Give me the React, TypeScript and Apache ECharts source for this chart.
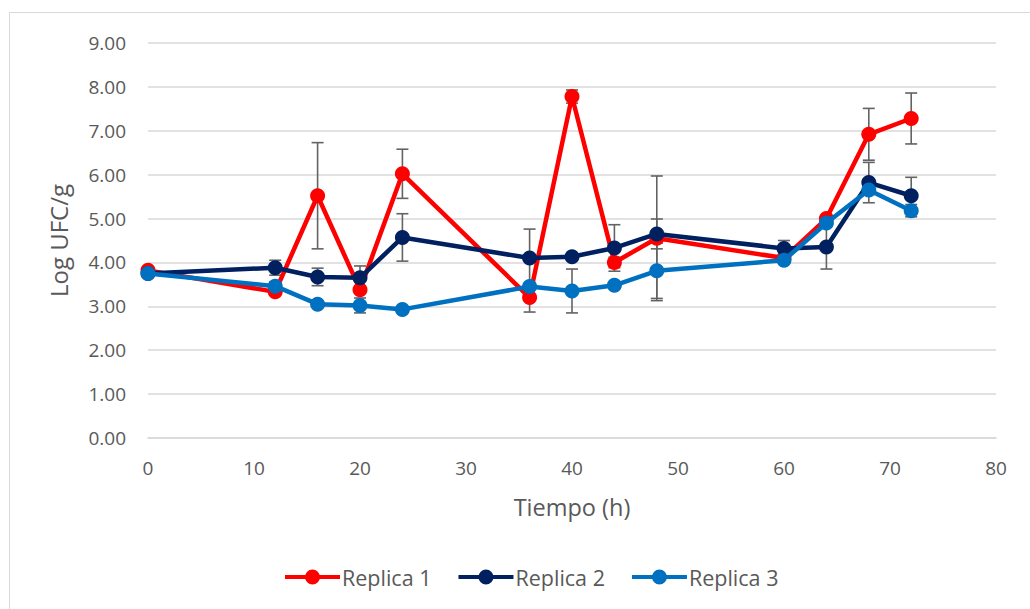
import React, { useEffect, useRef } from "react";
import * as echarts from "echarts";

const times = [0, 12, 16, 20, 24, 36, 40, 44, 48, 60, 64, 68, 72];
const replica1 = [3.82, 3.33, 5.52, 3.38, 6.02, 3.2, 7.78, 4.0, 4.55, 4.1, 5.0, 6.92, 7.28];
const replica2 = [3.75, 3.88, 3.67, 3.65, 4.57, 4.1, 4.13, 4.33, 4.65, 4.32, 4.35, 5.82, 5.52];
const replica3 = [3.75, 3.46, 3.05, 3.02, 2.93, 3.45, 3.35, 3.48, 3.81, 4.05, 4.9, 5.65, 5.18];
const err1 = [0.05, 0.05, 1.21, 0.05, 0.56, 0.33, 0.15, 0.12, 1.42, 0.05, 0.05, 0.59, 0.58];
const err2 = [0.05, 0.17, 0.2, 0.27, 0.54, 0.66, 0.05, 0.53, 0.34, 0.18, 0.5, 0.46, 0.42];
const err3 = [0.05, 0.1, 0.05, 0.17, 0.05, 0.05, 0.5, 0.05, 0.63, 0.05, 0.05, 0.1, 0.14];
const seriesNames = ["Replica 1", "Replica 2", "Replica 3"];
const yTicks = { min: 0, max: 9, interval: 1 };
const xTicks = { min: 0, max: 80, interval: 10 };

const colors = ["#FF0000", "#002060", "#0070C0"];
const FONT = "'Open Sans', 'Noto Sans', sans-serif";
const LEGEND_ICON =
  "path://M0,5.5 L55,5.5 L55,9.5 L0,9.5 Z M20,7.5 A7.5,7.5 0 1,1 35,7.5 A7.5,7.5 0 1,1 20,7.5 Z";

export default function App() {
  const ref = useRef<HTMLDivElement>(null);
  useEffect(() => {
    if (!ref.current) return;
    const chart = echarts.init(ref.current, null, { renderer: "svg" });
    const vals = [replica1, replica2, replica3];
    const errs = [err1, err2, err3];

    const lineSeries = vals.map((v, i) => ({
      name: seriesNames[i],
      type: "line",
      data: times.map((t, j) => [t, v[j]]),
      symbol: "circle",
      symbolSize: 15,
      lineStyle: { width: 4.5, color: colors[i] },
      itemStyle: { color: colors[i] },
      z: 3 + i,
    }));

    const errSeries = vals.map((v, i) => ({
      name: "err" + i,
      type: "custom",
      data: times.map((t, j) => [t, v[j] - errs[i][j], v[j] + errs[i][j]]),
      z: 2,
      renderItem: (params: any, api: any) => {
        const x = api.value(0);
        const lo = api.coord([x, api.value(1)]);
        const hi = api.coord([x, api.value(2)]);
        const hw = 6;
        const style = { stroke: "#636363", lineWidth: 1.6 };
        return {
          type: "group",
          children: [
            { type: "line", shape: { x1: lo[0], y1: lo[1], x2: hi[0], y2: hi[1] }, style },
            { type: "line", shape: { x1: lo[0] - hw, y1: lo[1], x2: lo[0] + hw, y2: lo[1] }, style },
            { type: "line", shape: { x1: hi[0] - hw, y1: hi[1], x2: hi[0] + hw, y2: hi[1] }, style },
          ],
        };
      },
    }));

    chart.setOption({
      animation: false,
      backgroundColor: "#ffffff",
      graphic: [
        {
          type: "rect",
          shape: { x: 9.5, y: 12.5, width: 1030, height: 610 },
          style: { fill: "none", stroke: "#d9d9d9", lineWidth: 1 },
          silent: true,
        },
      ],
      grid: { left: 148, right: 34, top: 43, bottom: 171 },
      xAxis: {
        type: "value",
        min: xTicks.min,
        max: xTicks.max,
        interval: xTicks.interval,
        name: "Tiempo (h)",
        nameLocation: "middle",
        nameGap: 57,
        nameTextStyle: { fontFamily: FONT, fontSize: 23.5, color: "#595959" },
        axisLine: { show: true, lineStyle: { color: "#d9d9d9", width: 1.5 } },
        axisTick: { show: false },
        splitLine: { show: false },
        axisLabel: { fontFamily: FONT, fontSize: 19, color: "#595959", margin: 20 },
      },
      yAxis: {
        type: "value",
        min: yTicks.min,
        max: yTicks.max,
        interval: yTicks.interval,
        name: "Log UFC/g",
        nameLocation: "middle",
        nameGap: 78,
        nameTextStyle: { fontFamily: FONT, fontSize: 24, color: "#595959" },
        axisLine: { show: false },
        axisTick: { show: false },
        splitLine: { show: true, lineStyle: { color: "#d9d9d9", width: 1.5 } },
        axisLabel: {
          fontFamily: FONT,
          fontSize: 19,
          color: "#595959",
          margin: 22,
          formatter: (v: number) => v.toFixed(2),
        },
      },
      legend: {
        data: seriesNames.map((n) => ({ name: n, icon: LEGEND_ICON })),
        top: 561,
        left: 280,
        itemWidth: 55,
        itemHeight: 15,
        itemGap: 27,
        textStyle: { fontFamily: FONT, fontSize: 21.5, color: "#595959", padding: [0, 0, 0, -3] },
      },
      series: [...errSeries, ...lineSeries],
    });
    return () => chart.dispose();
  }, []);
  return (
    <div
      ref={ref}
      style={{ position: "absolute", left: 0, top: 0, width: 1030, height: 609 }}
    />
  );
}
